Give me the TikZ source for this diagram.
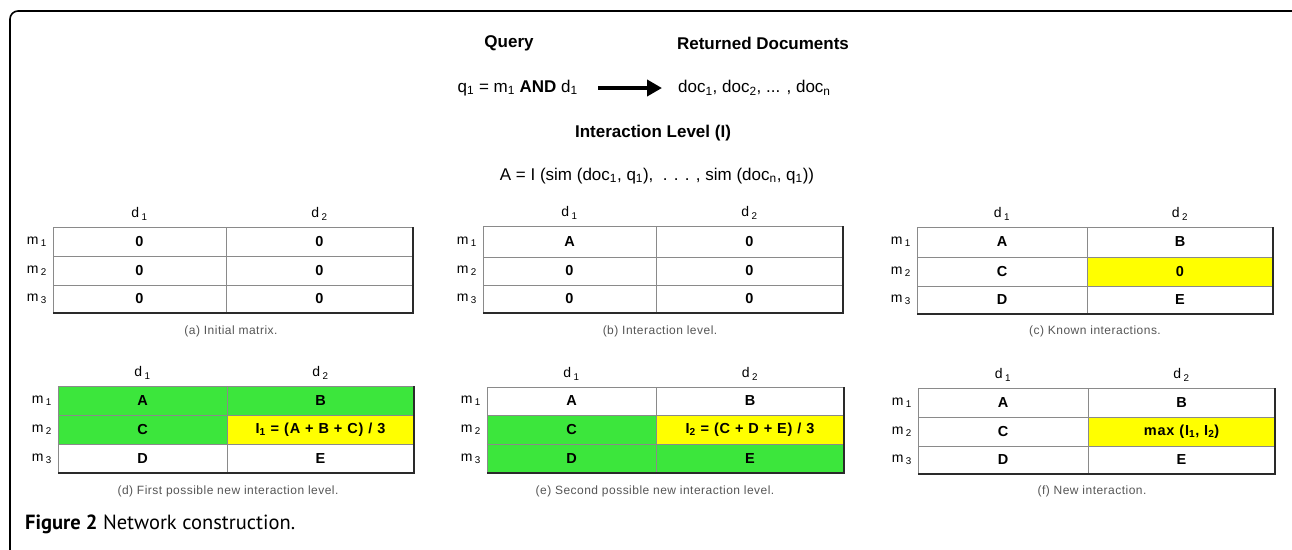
\documentclass[tikz,border=0pt]{standalone}
\usepackage{fontspec}
\setmainfont{Liberation Sans}
\newfontfamily\capfont{PT Sans}
\newfontfamily\cellfont[LetterSpace=6]{Liberation Sans}
\newfontfamily\smallcapfont[LetterSpace=4]{Liberation Sans}
\usetikzlibrary{arrows.meta,calc}

\definecolor{cellgreen}{HTML}{3CE63C}
\definecolor{cellyellow}{HTML}{FFFF00}
\definecolor{gridgray}{HTML}{8A8A8A}
\definecolor{edgedark}{HTML}{2A2A2A}
\definecolor{captiongray}{HTML}{555555}

\newcommand\sbs[1]{\,\textsubscript{#1}}
\newcommand\tsb[1]{\textsubscript{#1}}
\newcommand\settab[7]{\def\tL{#1}\def\tM{#2}\def\tR{#3}\def\tT{#4}\def\tA{#5}\def\tB{#6}\def\tBo{#7}}
\newcommand\mc[7]{\node[cellbox,fill=#6,minimum width={(#3-#2)*1pt},minimum height={(#5-#4)*1pt}] (#1) at ({(#2+#3)/2},{(#4+#5)/2}) {#7};}
\newcommand\tabdeco[1]{%
  \node[colhdr] (#1d1) at ($(#111.north)+(0,-13)$) {d\sbs{1}};
  \node[colhdr] (#1d2) at ($(#112.north)+(0,-13)$) {d\sbs{2}};
  \node[rowhdr] (#1m1) at ($(#111.west)+(-5,0)$) {m\sbs{1}};
  \node[rowhdr] (#1m2) at ($(#121.west)+(-5,0)$) {m\sbs{2}};
  \node[rowhdr] (#1m3) at ($(#131.west)+(-5,0)$) {m\sbs{3}};
  \draw[outeredge] (#112.north east) -- (#132.south east) -- (#131.south west);
}

\begin{document}
\begin{tikzpicture}[x=1pt,y=-1pt,
  cellbox/.style={draw=gridgray,line width=1pt,inner sep=0pt,outer sep=0pt,font=\cellfont\fontsize{14.5}{14.5}\selectfont\bfseries},
  colhdr/.style={inner sep=1pt,font=\fontsize{14}{14}\selectfont},
  rowhdr/.style={anchor=east,inner sep=1pt,font=\fontsize{14}{14}\selectfont},
  outeredge/.style={draw=edgedark,line width=2pt},
  subcap/.style={text=captiongray,inner sep=1pt,font=\smallcapfont\fontsize{12}{12}\selectfont},
  hdrbold/.style={inner sep=2pt,font=\fontsize{17}{17}\selectfont\bfseries},
  hdrtext/.style={inner sep=2pt,font=\fontsize{17}{17}\selectfont},
  bigarrow/.style={line width=4.5pt,-{Triangle[length=15pt,width=16pt]}},
  figcap/.style={anchor=west,inner sep=0pt,font=\capfont\fontsize{20.5}{20.5}\selectfont},
  framebox/.style={line width=1.6pt,rounded corners=8pt}]
\useasboundingbox (0,0) rectangle (1292,549);
\begin{scope}
  \clip (0,0) rectangle (1292,549);
  \draw[framebox] (10,570) -- (10,11) -- (1300,11) -- (1300,570);
\end{scope}

% header
\node[hdrbold] (query) at (509,43) {Query};
\node[hdrbold] (retdoc) at (763,43) {Returned Documents};
\node[hdrtext,anchor=east] (qexpr) at (580,88) {q\tsb{1} = m\tsb{1} \textbf{AND} d\tsb{1}};
\node[hdrtext,anchor=west] (docs) at (676,88) {doc\tsb{1}, doc\tsb{2}, ... , doc\tsb{n}};
\draw[bigarrow,shorten <=18pt,shorten >=14pt] (qexpr.east) -- (docs.west);
\node[hdrbold] (ilevel) at (653,133) {Interaction Level (I)};
\node[hdrtext] (formula) at (657,176) {A = I (sim (doc\tsb{1}, q\tsb{1}), \ . . . , sim (doc\tsb{n}, q\tsb{1}))};

% (a)
\settab{53}{226}{413}{227}{256}{285}{313}
\mc{a11}{\tL}{\tM}{\tT}{\tA}{white}{0}
\mc{a12}{\tM}{\tR}{\tT}{\tA}{white}{0}
\mc{a21}{\tL}{\tM}{\tA}{\tB}{white}{0}
\mc{a22}{\tM}{\tR}{\tA}{\tB}{white}{0}
\mc{a31}{\tL}{\tM}{\tB}{\tBo}{white}{0}
\mc{a32}{\tM}{\tR}{\tB}{\tBo}{white}{0}
\tabdeco{a}
\node[subcap] (acap) at (231,331) {(a) Initial matrix.};

% (b)
\settab{483}{656}{843}{226}{257}{285}{313}
\mc{b11}{\tL}{\tM}{\tT}{\tA}{white}{A}
\mc{b12}{\tM}{\tR}{\tT}{\tA}{white}{0}
\mc{b21}{\tL}{\tM}{\tA}{\tB}{white}{0}
\mc{b22}{\tM}{\tR}{\tA}{\tB}{white}{0}
\mc{b31}{\tL}{\tM}{\tB}{\tBo}{white}{0}
\mc{b32}{\tM}{\tR}{\tB}{\tBo}{white}{0}
\tabdeco{b}
\node[subcap] (bcap) at (660,331) {(b) Interaction level.};

% (c)
\settab{917}{1087}{1273}{227}{257}{286}{314}
\mc{c11}{\tL}{\tM}{\tT}{\tA}{white}{A}
\mc{c12}{\tM}{\tR}{\tT}{\tA}{white}{B}
\mc{c21}{\tL}{\tM}{\tA}{\tB}{white}{C}
\mc{c22}{\tM}{\tR}{\tA}{\tB}{cellyellow}{0}
\mc{c31}{\tL}{\tM}{\tB}{\tBo}{white}{D}
\mc{c32}{\tM}{\tR}{\tB}{\tBo}{white}{E}
\tabdeco{c}
\node[subcap] (ccap) at (1095,331) {(c) Known interactions.};

% (d)
\settab{58}{227}{414}{386}{415}{444}{473}
\mc{d11}{\tL}{\tM}{\tT}{\tA}{cellgreen}{A}
\mc{d12}{\tM}{\tR}{\tT}{\tA}{cellgreen}{B}
\mc{d21}{\tL}{\tM}{\tA}{\tB}{cellgreen}{C}
\mc{d22}{\tM}{\tR}{\tA}{\tB}{cellyellow}{I\tsb{1} = (A + B + C) / 3}
\mc{d31}{\tL}{\tM}{\tB}{\tBo}{white}{D}
\mc{d32}{\tM}{\tR}{\tB}{\tBo}{white}{E}
\tabdeco{d}
\node[subcap] (dcap) at (228,491) {(d) First possible new interaction level.};

% (e)
\settab{487}{656}{844}{387}{415}{444}{473}
\mc{e11}{\tL}{\tM}{\tT}{\tA}{white}{A}
\mc{e12}{\tM}{\tR}{\tT}{\tA}{white}{B}
\mc{e21}{\tL}{\tM}{\tA}{\tB}{cellgreen}{C}
\mc{e22}{\tM}{\tR}{\tA}{\tB}{cellyellow}{I\tsb{2} = (C + D + E) / 3}
\mc{e31}{\tL}{\tM}{\tB}{\tBo}{cellgreen}{D}
\mc{e32}{\tM}{\tR}{\tB}{\tBo}{cellgreen}{E}
\tabdeco{e}
\node[subcap] (ecap) at (655,491) {(e) Second possible new interaction level.};

% (f)
\settab{918}{1088}{1275}{388}{417}{446}{474}
\mc{f11}{\tL}{\tM}{\tT}{\tA}{white}{A}
\mc{f12}{\tM}{\tR}{\tT}{\tA}{white}{B}
\mc{f21}{\tL}{\tM}{\tA}{\tB}{white}{C}
\mc{f22}{\tM}{\tR}{\tA}{\tB}{cellyellow}{max (I\tsb{1}, I\tsb{2})}
\mc{f31}{\tL}{\tM}{\tB}{\tBo}{white}{D}
\mc{f32}{\tM}{\tR}{\tB}{\tBo}{white}{E}
\tabdeco{f}
\node[subcap] (fcap) at (1092,491) {(f) New interaction.};

% figure caption
\node[figcap] (figcap) at (25,524) {\textbf{Figure 2} Network construction.};
\end{tikzpicture}
\end{document}
